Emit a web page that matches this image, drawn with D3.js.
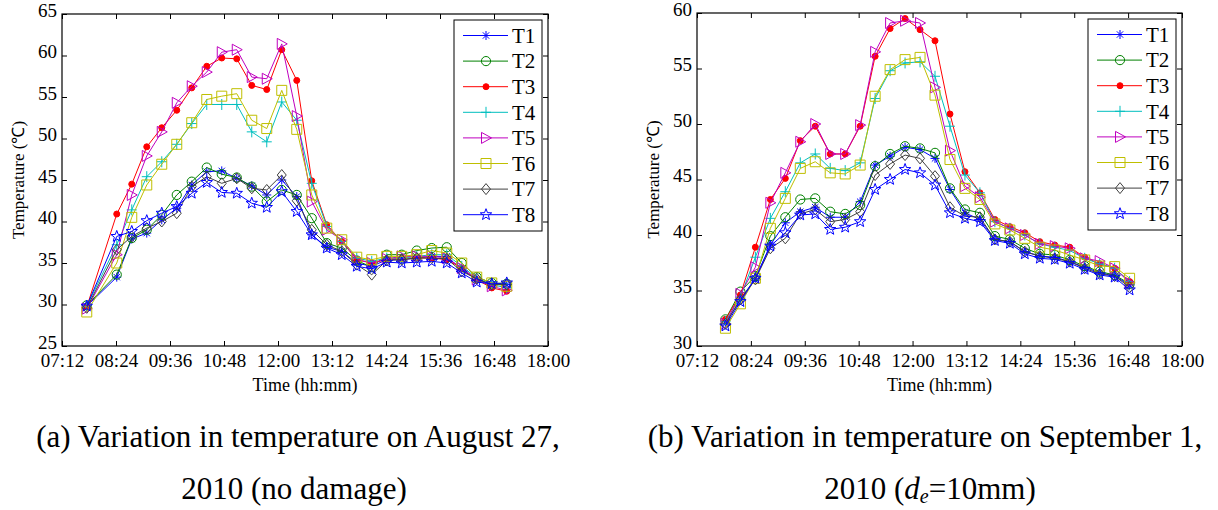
<!DOCTYPE html>
<html>
<head>
<meta charset="utf-8">
<script src="https://cdn.jsdelivr.net/npm/d3@7"></script>
<style>
  body { margin: 0; background: #fff; }
  svg { display: block; }
  text { font-family: "Liberation Serif", "Times New Roman", serif; fill: #000; }
</style>
</head>
<body>
<svg id="fig" width="1218" height="510"></svg>
<script>
// ---- data ----
const seriesNames = ["T1", "T2", "T3", "T4", "T5", "T6", "T7", "T8"];
const xTickLabels = ["07:12", "08:24", "09:36", "10:48", "12:00", "13:12", "14:24", "15:36", "16:48", "18:00"];
const yTicksAug = [25, 30, 35, 40, 45, 50, 55, 60, 65];
const yTicksSep = [30, 35, 40, 45, 50, 55, 60];

// August 27, 2010 (no damage)
const timesAug = ["07:45", "08:25", "08:45", "09:05", "09:25", "09:45", "10:05", "10:25", "10:45", "11:05",
  "11:25", "11:45", "12:05", "12:25", "12:45", "13:05", "13:25", "13:45", "14:05", "14:25",
  "14:45", "15:05", "15:25", "15:45", "16:05", "16:25", "16:45", "17:05"];
const augT1 = [29.8, 33.3, 37.9, 38.6, 40.2, 41.6, 44.4, 46.0, 46.1, 45.2, 44.3, 43.2, 45.0, 43.0, 38.4, 36.9, 36.4, 35.0, 34.6, 35.4, 35.4, 35.6, 35.8, 35.8, 34.2, 33.0, 32.4, 32.4];
const augT2 = [29.9, 33.6, 38.0, 39.0, 40.8, 43.2, 44.8, 46.5, 45.7, 45.3, 44.2, 42.4, 43.8, 43.2, 40.4, 37.4, 36.8, 35.3, 34.5, 36.0, 36.0, 36.5, 36.8, 36.9, 35.0, 33.3, 32.6, 32.5];
const augT3 = [29.7, 40.9, 44.5, 49.0, 51.3, 53.4, 56.1, 58.7, 59.7, 59.6, 56.4, 55.9, 60.7, 57.0, 44.9, 39.6, 37.6, 35.4, 35.0, 35.4, 35.6, 35.6, 35.6, 35.4, 34.4, 33.0, 32.0, 31.6];
const augT4 = [29.8, 37.2, 41.4, 45.4, 47.2, 49.3, 51.8, 54.1, 54.1, 54.1, 50.8, 49.6, 54.4, 52.2, 44.6, 39.4, 37.6, 35.6, 35.2, 35.6, 35.6, 35.8, 36.0, 36.0, 34.6, 33.2, 32.4, 32.0];
const augT5 = [29.5, 36.0, 43.2, 47.9, 50.8, 54.3, 56.3, 58.0, 60.4, 60.7, 57.4, 57.2, 61.4, 52.7, 42.4, 39.0, 37.8, 35.4, 35.0, 35.5, 35.8, 35.8, 35.8, 35.6, 34.4, 33.0, 32.2, 31.7];
const augT6 = [29.1, 35.0, 40.5, 44.4, 46.9, 49.3, 51.9, 54.7, 55.1, 55.4, 52.2, 51.2, 55.8, 51.1, 43.2, 39.2, 37.8, 35.7, 35.4, 35.8, 35.8, 36.0, 36.5, 36.2, 35.0, 33.3, 32.6, 32.2];
const augT7 = [29.6, 36.6, 38.2, 39.2, 40.0, 41.0, 44.2, 45.4, 44.6, 45.2, 44.0, 43.8, 45.6, 42.5, 39.0, 37.2, 36.4, 34.8, 33.6, 35.3, 35.4, 35.6, 35.6, 35.5, 34.0, 33.1, 32.4, 32.4];
const augT8 = [29.8, 38.2, 38.8, 40.1, 41.0, 41.8, 43.4, 44.7, 43.5, 43.4, 42.2, 41.7, 43.6, 41.2, 38.4, 36.8, 36.0, 34.6, 34.3, 35.1, 35.0, 35.1, 35.2, 35.0, 33.8, 32.7, 32.5, 32.6];

// September 1, 2010 (d_e = 10 mm)
const timesSep = ["07:50", "08:10", "08:30", "08:50", "09:10", "09:30", "09:50", "10:10", "10:30", "10:50",
  "11:10", "11:30", "11:50", "12:10", "12:30", "12:50", "13:10", "13:30", "13:50", "14:10",
  "14:30", "14:50", "15:10", "15:30", "15:50", "16:10", "16:30", "16:50"];
const sepT1 = [32.0, 34.2, 36.1, 39.1, 41.1, 42.1, 42.5, 41.6, 41.6, 43.0, 46.3, 47.1, 47.9, 47.7, 46.9, 44.1, 42.0, 41.4, 39.6, 39.4, 38.5, 38.1, 38.0, 37.6, 37.1, 36.6, 36.3, 35.5];
const sepT2 = [32.4, 34.9, 36.3, 39.9, 41.6, 43.2, 43.3, 42.1, 41.9, 42.7, 46.2, 47.3, 48.0, 47.8, 47.4, 44.2, 42.3, 42.0, 39.9, 39.6, 38.8, 38.3, 38.2, 37.75, 37.2, 36.7, 36.4, 35.6];
const sepT3 = [32.4, 34.6, 38.9, 43.2, 45.1, 48.5, 49.8, 47.3, 47.3, 49.8, 56.1, 58.6, 59.5, 58.5, 57.5, 50.9, 45.7, 43.8, 41.4, 40.75, 40.2, 39.4, 39.1, 38.9, 38.0, 37.4, 37.0, 35.8];
const sepT4 = [32.2, 34.4, 38.0, 41.5, 43.9, 46.5, 47.3, 46.0, 45.8, 46.5, 52.3, 54.8, 55.5, 55.6, 54.3, 49.8, 45.4, 43.8, 41.2, 40.6, 40.0, 39.2, 38.9, 38.6, 37.9, 37.4, 37.0, 35.8];
const sepT5 = [32.0, 34.7, 37.1, 42.9, 45.6, 48.4, 50.0, 47.3, 47.3, 49.9, 56.5, 59.1, 59.3, 59.1, 53.3, 47.6, 44.4, 43.4, 41.2, 40.6, 40.0, 39.2, 39.0, 38.8, 37.9, 37.65, 37.0, 35.7];
const sepT6 = [31.6, 33.8, 36.1, 40.6, 43.3, 46.0, 46.6, 45.6, 45.5, 46.3, 52.5, 54.9, 55.8, 56.0, 52.6, 46.8, 44.2, 43.2, 41.0, 40.45, 39.7, 38.9, 38.65, 38.2, 37.75, 37.2, 37.15, 36.1];
const sepT7 = [32.0, 34.2, 36.0, 38.8, 39.7, 41.9, 42.3, 41.2, 41.4, 42.1, 45.4, 46.4, 47.2, 46.9, 45.3, 42.5, 41.7, 41.6, 39.6, 39.4, 38.5, 38.1, 37.9, 37.6, 37.0, 36.5, 36.3, 35.3];
const sepT8 = [31.8, 34.0, 36.1, 39.0, 40.2, 41.8, 41.9, 40.5, 40.7, 41.2, 44.1, 45.0, 45.9, 45.6, 44.5, 42.0, 41.5, 41.2, 39.5, 39.25, 38.3, 37.9, 37.8, 37.45, 36.9, 36.4, 36.2, 35.05];

// ---- styling ----
const colors = ["#0000ff", "#008000", "#ff0000", "#00bfbf", "#bf00bf", "#bfbf00", "#404040", "#0000ff"];
const markerKinds = ["asterisk", "circle", "dot", "plus", "triangleRight", "square", "diamond", "star"];

const toMin = s => { const [h, m] = s.split(":").map(Number); return h * 60 + m; };

function markerPath(kind) {
  const p = d3.path();
  switch (kind) {
    case "asterisk": {
      const r = 4.5, q = r * Math.SQRT1_2;
      p.moveTo(-r, 0); p.lineTo(r, 0);
      p.moveTo(0, -r); p.lineTo(0, r);
      p.moveTo(-q, -q); p.lineTo(q, q);
      p.moveTo(-q, q); p.lineTo(q, -q);
      break;
    }
    case "circle": p.arc(0, 0, 4.6, 0, 2 * Math.PI); break;
    case "dot": p.arc(0, 0, 3, 0, 2 * Math.PI); break;
    case "plus": p.moveTo(-5, 0); p.lineTo(5, 0); p.moveTo(0, -5.5); p.lineTo(0, 5.5); break;
    case "triangleRight": p.moveTo(-4.5, -5.5); p.lineTo(5.5, 0); p.lineTo(-4.5, 5.5); p.closePath(); break;
    case "square": p.rect(-5, -5, 10, 10); break;
    case "diamond": p.moveTo(0, -5.5); p.lineTo(4.5, 0); p.lineTo(0, 5.5); p.lineTo(-4.5, 0); p.closePath(); break;
    case "star": {
      const ro = 6, ri = 2.5;
      for (let k = 0; k < 10; k++) {
        const a = -Math.PI / 2 + k * Math.PI / 5, r = k % 2 ? ri : ro;
        const px = r * Math.cos(a), py = r * Math.sin(a);
        if (k === 0) p.moveTo(px, py); else p.lineTo(px, py);
      }
      p.closePath();
      break;
    }
  }
  return p.toString();
}

const svg = d3.select("#fig");
svg.append("rect").attr("width", 1218).attr("height", 510).attr("fill", "#fff");

function drawPanel(cfg) {
  const { left, right, top, bottom, yDomain, yTicks, times, series } = cfg;
  const x = d3.scaleLinear().domain([toMin(xTickLabels[0]), toMin(xTickLabels[xTickLabels.length - 1])]).range([left, right]);
  const y = d3.scaleLinear().domain(yDomain).range([bottom, top]);
  const xTickVals = xTickLabels.map(toMin);
  const g = svg.append("g");

  // data lines and markers
  series.forEach((vals, si) => {
    const pts = vals.map((v, i) => [x(toMin(times[i])), y(v)]);
    const sg = g.append("g");
    sg.append("path")
      .attr("d", d3.line()(pts))
      .attr("fill", "none")
      .attr("stroke", colors[si])
      .attr("stroke-width", 1);
    const mp = markerPath(markerKinds[si]);
    sg.selectAll("path.m").data(pts).join("path")
      .attr("class", "m")
      .attr("d", mp)
      .attr("transform", d => `translate(${d[0]},${d[1]})`)
      .attr("fill", markerKinds[si] === "dot" ? colors[si] : "none")
      .attr("stroke", colors[si])
      .attr("stroke-width", 1);
  });

  // axes with inward ticks on all four sides
  const ax = g.append("g").attr("class", "axes");
  const bottomAxis = d3.axisBottom(x).tickValues(xTickVals).tickFormat((d, i) => xTickLabels[i])
    .tickSizeInner(-5).tickSizeOuter(0).tickPadding(8);
  const topAxis = d3.axisTop(x).tickValues(xTickVals).tickFormat("").tickSizeInner(-5).tickSizeOuter(0);
  const leftAxis = d3.axisLeft(y).tickValues(yTicks).tickFormat(d3.format("d"))
    .tickSizeInner(-5).tickSizeOuter(0).tickPadding(5);
  const rightAxis = d3.axisRight(y).tickValues(yTicks).tickFormat("").tickSizeInner(-5).tickSizeOuter(0);

  ax.append("g").attr("transform", `translate(0,${bottom})`).call(bottomAxis);
  ax.append("g").attr("transform", `translate(0,${top})`).call(topAxis);
  const ly = ax.append("g").attr("transform", `translate(${left},0)`).call(leftAxis);
  ax.append("g").attr("transform", `translate(${right},0)`).call(rightAxis);
  ax.selectAll(".domain").remove();
  ax.selectAll(".tick line").attr("stroke", "#000");
  ax.selectAll(".tick text").attr("font-size", 19).attr("font-family", "Liberation Serif").attr("fill", "#000");
  // value labels sit slightly above their ticks
  ly.selectAll(".tick text").attr("dy", "0.12em");

  g.append("rect")
    .attr("x", left).attr("y", top)
    .attr("width", right - left).attr("height", bottom - top)
    .attr("fill", "none").attr("stroke", "#000").attr("stroke-width", 1.2);

  // axis titles
  g.append("text")
    .attr("x", (left + right) / 2).attr("y", bottom + 45)
    .attr("text-anchor", "middle").attr("font-size", 18)
    .text("Time (hh:mm)");
  g.append("text")
    .attr("transform", `translate(${left - 38},${(top + bottom) / 2}) rotate(-90)`)
    .attr("text-anchor", "middle").attr("font-size", 17)
    .text("Temperature (\u2103)");

  // legend
  const lw = 88, lh = 211;
  const lx = right - 6 - lw, lyTop = top + 6;
  const lg = g.append("g").attr("transform", `translate(${lx},${lyTop})`);
  lg.append("rect").attr("width", lw).attr("height", lh)
    .attr("fill", "#fff").attr("stroke", "#000").attr("stroke-width", 1);
  seriesNames.forEach((name, si) => {
    const yy = 15.5 + si * 25.6;
    lg.append("line").attr("x1", 9).attr("x2", 54).attr("y1", yy).attr("y2", yy)
      .attr("stroke", colors[si]).attr("stroke-width", 1);
    lg.append("path").attr("d", markerPath(markerKinds[si]))
      .attr("transform", `translate(32,${yy})`)
      .attr("fill", markerKinds[si] === "dot" ? colors[si] : "none")
      .attr("stroke", colors[si]).attr("stroke-width", 1);
    lg.append("text").attr("x", 58).attr("y", yy).attr("dy", "0.35em")
      .attr("font-size", 21).text(name);
  });
}

drawPanel({
  left: 62, right: 548, top: 14, bottom: 346,
  yDomain: [25, 65], yTicks: yTicksAug, times: timesAug,
  series: [augT1, augT2, augT3, augT4, augT5, augT6, augT7, augT8]
});
drawPanel({
  left: 697, right: 1182, top: 13, bottom: 346,
  yDomain: [30, 60], yTicks: yTicksSep, times: timesSep,
  series: [sepT1, sepT2, sepT3, sepT4, sepT5, sepT6, sepT7, sepT8]
});

// sub-figure captions
const cap = svg.append("g").attr("font-size", 31);
cap.append("text").attr("x", 298).attr("y", 447).attr("text-anchor", "middle")
  .text("(a) Variation in temperature on August 27,");
cap.append("text").attr("x", 294).attr("y", 499).attr("text-anchor", "middle")
  .text("2010 (no damage)");
cap.append("text").attr("x", 925).attr("y", 447).attr("text-anchor", "middle")
  .text("(b) Variation in temperature on September 1,");
const c2 = cap.append("text").attr("x", 930).attr("y", 499).attr("text-anchor", "middle");
c2.append("tspan").text("2010 (");
c2.append("tspan").attr("font-style", "italic").text("d");
c2.append("tspan").attr("font-style", "italic").attr("font-size", 20).attr("dy", 4).text("e");
c2.append("tspan").attr("dy", -4).text("=10mm)");
</script>
</body>
</html>
